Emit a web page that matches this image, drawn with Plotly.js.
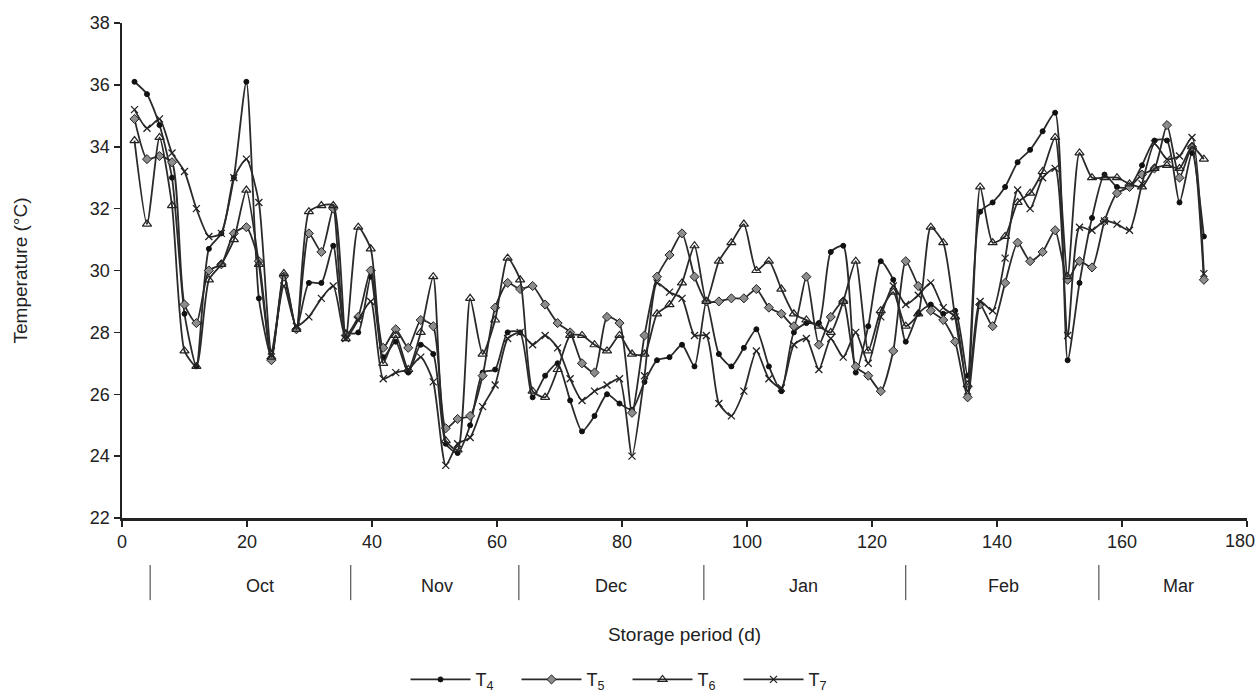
<!DOCTYPE html>
<html>
<head>
<meta charset="utf-8">
<script src="https://cdn.plot.ly/plotly-3.0.1.min.js"></script>
<style>html,body{margin:0;padding:0;background:#fff;}#chart{width:1258px;height:695px;}</style>
</head>
<body>
<div id="chart"></div>
<script>
// Storage day of each reading (about every 2 days)
const days = [2.0,4.0,6.0,8.0,10.0,11.9,13.9,15.9,17.9,19.9,21.9,23.9,25.9,27.9,29.9,31.9,33.8,35.8,37.8,39.8,
  41.8,43.8,45.8,47.8,49.8,51.8,53.7,55.7,57.7,59.7,61.7,63.7,65.7,67.7,69.7,71.7,73.6,75.6,77.6,79.6,
  81.6,83.6,85.6,87.6,89.6,91.6,93.5,95.5,97.5,99.5,101.5,103.5,105.5,107.5,109.5,111.5,113.4,115.4,117.4,119.4,
  121.4,123.4,125.4,127.4,129.4,131.4,133.3,135.3,137.3,139.3,141.3,143.3,145.3,147.3,149.3,151.3,153.2,155.2,157.2,159.2,
  161.2,163.2,165.2,167.2,169.2,171.2,173.1];

const T4 = [36.1,35.7,34.7,33.0,28.6,26.9,30.7,31.2,33.0,36.1,29.1,27.2,29.8,28.1,29.6,29.6,30.8,28.0,28.0,29.8,
  27.2,27.7,26.7,27.6,27.3,24.4,24.1,25.0,26.7,26.8,28.0,28.0,25.9,26.6,27.0,25.8,24.8,25.3,26.0,25.7,
  25.5,26.4,27.1,27.2,27.6,26.9,29.0,27.3,26.9,27.5,28.1,26.9,26.1,28.0,28.3,28.3,30.6,30.8,26.7,28.2,
  30.3,29.7,27.7,28.6,28.9,28.6,28.7,26.6,31.9,32.2,32.7,33.5,33.9,34.5,35.1,27.1,29.6,31.7,33.1,32.7,
  32.7,33.4,34.2,34.2,32.2,33.8,31.1];

const T5 = [34.9,33.6,33.7,33.5,28.9,28.3,30.0,30.2,31.2,31.4,30.3,27.1,29.8,28.1,31.2,30.6,32.0,27.9,28.5,30.0,
  27.5,28.1,27.5,28.4,28.2,24.9,25.2,25.3,26.6,28.8,29.6,29.4,29.5,28.9,28.3,28.0,27.0,26.7,28.5,28.3,
  25.4,27.9,29.8,30.5,31.2,29.8,29.0,29.0,29.1,29.1,29.4,28.8,28.6,28.2,29.8,27.6,28.5,29.0,26.9,26.6,
  26.1,27.4,30.3,29.5,28.7,28.4,27.7,25.9,28.9,28.2,29.6,30.9,30.3,30.6,31.3,29.7,30.3,30.1,31.6,32.5,
  32.7,33.1,33.3,34.7,33.0,34.0,29.7];

const T6 = [34.2,31.5,34.3,32.1,27.4,26.9,29.7,30.2,31.0,32.6,30.2,27.2,29.9,28.1,31.9,32.1,32.1,27.8,31.4,30.7,
  27.0,27.9,26.8,28.0,29.8,24.5,24.2,29.1,27.3,28.4,30.4,29.7,26.1,25.9,26.8,27.9,27.9,27.6,27.4,27.9,
  27.3,27.3,28.6,28.9,29.6,30.8,29.0,30.3,30.9,31.5,30.0,30.3,29.4,28.6,28.4,28.2,28.0,29.0,30.3,27.4,
  28.7,29.3,28.2,28.6,31.4,30.9,28.5,26.3,32.7,30.9,31.1,32.2,32.5,33.2,34.3,29.8,33.8,33.0,33.0,33.0,
  32.8,32.7,33.3,33.4,33.3,34.0,33.6];

const T7 = [35.2,34.6,34.9,33.8,33.2,32.0,31.1,31.2,33.0,33.6,32.2,27.4,29.5,28.2,28.5,29.1,29.5,27.8,28.4,29.0,
  26.5,26.7,26.8,27.2,26.4,23.7,24.4,24.6,25.6,26.3,27.8,28.0,27.6,27.9,27.5,26.5,25.8,26.1,26.3,26.5,
  24.0,26.6,29.6,29.3,29.1,27.9,27.9,25.7,25.3,26.1,27.4,26.5,26.2,27.6,27.8,26.8,27.8,27.2,28.0,27.0,
  28.5,29.5,28.9,29.2,29.6,28.8,28.5,26.1,29.0,28.7,30.4,32.6,32.0,33.0,33.3,27.9,31.4,31.3,31.6,31.5,
  31.3,32.8,34.1,33.6,33.7,34.3,29.9];

const seriesNames = ['T<sub>4</sub>','T<sub>5</sub>','T<sub>6</sub>','T<sub>7</sub>'];

const xTicks = [0, 20, 40, 60, 80, 100, 120, 140, 160, 180];
const xTickText = ['0','20','40','60','80','100','120','140','160',''];
const xLastTick = 180;
const monthNames = ['Oct','Nov','Dec','Jan','Feb','Mar'];
const monthCenters = [22, 50.4, 78.2, 109, 141, 169];
const monthBounds = [4.5, 36.6, 63.5, 93.1, 125.4, 156.3, 181.4];

const FONT = 'Liberation Sans, Arial, Helvetica, sans-serif';
const LINE = '#2a2a2a';

const markerStyles = [
  {symbol:'circle', size:5, color:'#111', line:{color:'#111', width:1}},
  {symbol:'diamond', size:7, color:'#8c8c8c', line:{color:'#222', width:1}},
  {symbol:'triangle-up-open', size:8, color:'#222', line:{color:'#222', width:1.2}},
  {symbol:'x-thin-open', size:7, color:'#222', line:{color:'#222', width:1.3}}
];
const allSeries = [T4, T5, T6, T7];

const traces = allSeries.map((vals, i) => ({
  type:'scatter', mode:'lines+markers', name: seriesNames[i],
  x: days, y: vals,
  line:{color:LINE, width:1.8, shape:'spline', smoothing:0.6},
  marker: markerStyles[i]
}));

const shapes = monthBounds.map(b => ({
  type:'line', xref:'x', yref:'paper', x0:b, x1:b, y0:-0.095, y1:-0.166,
  line:{color:'#333', width:1}
}));

const annotations = monthNames.map((m, i) => ({
  xref:'x', yref:'paper', x: monthCenters[i], y:-0.137, text:m, showarrow:false,
  font:{family:FONT, size:18, color:'#222'}, xanchor:'center', yanchor:'middle'
}));
// last x tick label, nudged inside the page so it is not clipped
annotations.push({
  xref:'x', yref:'paper', x:xLastTick, y:-0.0465, text:String(xLastTick), showarrow:false,
  font:{family:FONT, size:18, color:'#222'}, xanchor:'right', xshift:10, yanchor:'middle'
});

const layout = {
  width:1258, height:695,
  margin:{l:122, r:11, t:23, b:177},
  paper_bgcolor:'#fff', plot_bgcolor:'#fff',
  font:{family:FONT, size:18, color:'#222'},
  showlegend:true,
  legend:{orientation:'h', x:0.252, xanchor:'left', yref:'container', y:0.022, yanchor:'middle',
    font:{family:FONT, size:18, color:'#222'}, itemwidth:60, entrywidth:36, entrywidthmode:'pixels',
    traceorder:'normal', valign:'middle'},
  xaxis:{range:[0,180], tickmode:'array', tickvals:xTicks, ticktext:xTickText,
    showgrid:false, zeroline:false,
    showline:true, linecolor:'#222', linewidth:2.5, ticks:'outside', ticklen:6, tickcolor:'#222', tickwidth:1.5,
    tickfont:{family:FONT, size:18, color:'#222'},
    title:{text:'Storage period (d)', font:{family:FONT, size:19, color:'#222'}, standoff:77},
    automargin:'height'},
  yaxis:{range:[22,38], dtick:2, tick0:22, showgrid:false, zeroline:false,
    showline:true, linecolor:'#222', linewidth:2.5, ticks:'outside', ticklen:6, tickcolor:'#222', tickwidth:1.5,
    tickfont:{family:FONT, size:18, color:'#222'},
    title:{text:'Temperature (°C)', font:{family:FONT, size:19, color:'#222'}, standoff:57},
    automargin:'width'},
  shapes: shapes,
  annotations: annotations
};

Plotly.newPlot('chart', traces, layout, {displayModeBar:false, staticPlot:true});
</script>
</body>
</html>
